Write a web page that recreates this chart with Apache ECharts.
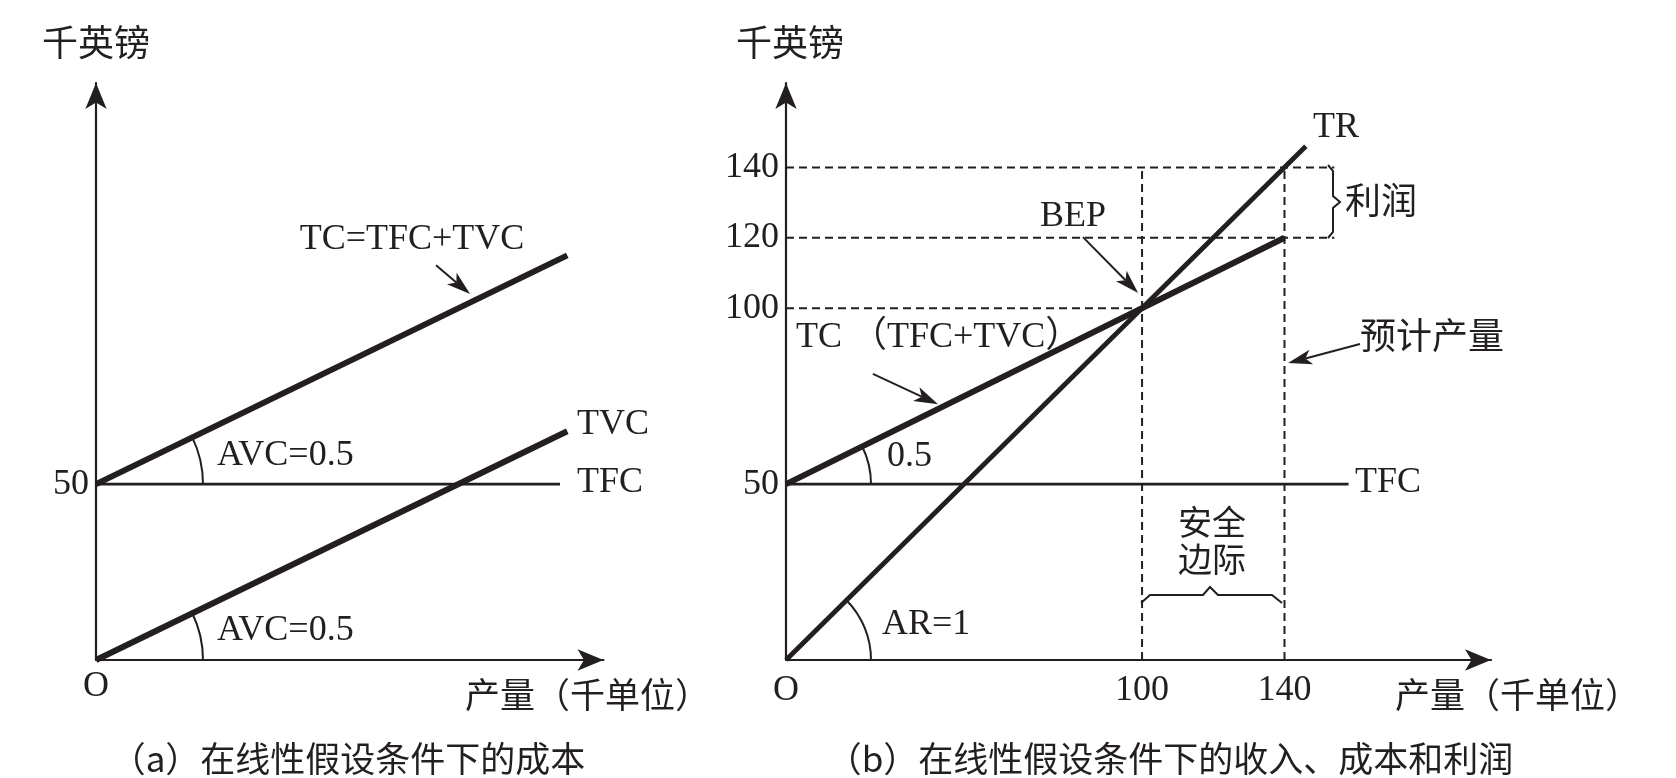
<!DOCTYPE html>
<html><head><meta charset="utf-8">
<script src="https://cdn.jsdelivr.net/npm/echarts@6/dist/echarts.min.js"></script>
<style>html,body{margin:0;padding:0;background:#fff}#c{width:1676px;height:778px}</style>
</head><body><div id="c"></div>
<script>
// ---------------- data ----------------
// (a) costs under linear assumptions  [output (k units), £k]
const aTFC = [[0, 50], [128, 50]];
const aTVC = [[0, 0], [130, 65]];
const aTC  = [[0, 50], [130, 115]];
const aYTicks = [50];
const aXTicks = [0];

// (b) revenue, cost and profit
const bTFC = [[0, 50], [158, 50]];
const bTC  = [[0, 50], [140, 120]];
const bTR  = [[0, 0], [146, 146]];
const bYTicks = [50, 100, 120, 140];
const bXTicks = [0, 100, 140];
const bHGuides = [[140, 154], [120, 154], [100, 100]]; // [level, reaches q]
const bVGuides = [[100, 140], [140, 140]];             // [q, up to level]

// annotation arrows [from, tip] in data coords
const aArrows = [[[93.8, 112.2], [103.2, 104]]];
const bArrows = [[[83.4, 120.2], [98.9, 104.3]], [[24.4, 81.3], [42.7, 72.7]], [[161.2, 89.8], [141, 84.4]]];

// ---------------- style ----------------
const INK = '#231f20';
const LAT = '"Liberation Serif", "Noto Sans CJK SC", serif';
const CJK = '"Noto Sans CJK SC", sans-serif';
const FS = 36;

const chart = echarts.init(document.getElementById('c'), null, {renderer: 'canvas'});

function axisX(idx, max, ticks, margin) {
  return {
    type: 'value', gridIndex: idx, min: 0, max: max,
    axisLine: {show: true, onZero: false, symbol: ['none', 'arrow'], symbolSize: [16, 26], lineStyle: {color: INK, width: 2.2}},
    axisTick: {show: false}, splitLine: {show: false},
    axisLabel: {show: true, customValues: ticks, margin: margin, color: INK, fontFamily: LAT, fontSize: FS,
      formatter: v => v === 0 ? 'O' : String(v)}
  };
}
function axisY(idx, max, ticks) {
  return {
    type: 'value', gridIndex: idx, min: 0, max: max,
    axisLine: {show: true, onZero: false, symbol: ['none', 'arrow'], symbolSize: [16, 26], lineStyle: {color: INK, width: 2.2}},
    axisTick: {show: false}, splitLine: {show: false},
    axisLabel: {show: true, customValues: ticks, margin: 7, color: INK, fontFamily: LAT, fontSize: FS}
  };
}
function line(g, data, width, extra) {
  return Object.assign({
    type: 'line', xAxisIndex: g, yAxisIndex: g, data: data, showSymbol: false, symbol: 'none',
    silent: true, animation: false, lineStyle: {color: INK, width: width, cap: 'butt'}, z: 3
  }, extra || {});
}
function dashed(g, data) {
  return line(g, data, 2, {lineStyle: {color: INK, width: 2, type: [8, 5]}, z: 2});
}

const series = [];
bHGuides.forEach(h => series.push(dashed(1, [[0, h[0]], [h[1], h[0]]])));
bVGuides.forEach(v => series.push(dashed(1, [[v[0], 0], [v[0], v[1]]])));
series.push(line(0, aTFC, 2.8));
series.push(line(0, aTVC, 6));
series.push(line(0, aTC, 6));
series.push(line(1, bTFC, 2.8));
series.push(line(1, bTC, 6));
series.push(line(1, bTR, 4.8));

chart.setOption({
  backgroundColor: '#fff',
  animation: false,
  grid: [
    {left: 96, top: 83, width: 507.5, height: 577, containLabel: false, outerBoundsMode: 'none'},
    {left: 786, top: 83, width: 705, height: 577, containLabel: false, outerBoundsMode: 'none'}
  ],
  xAxis: [axisX(0, 140, aXTicks, 9), axisX(1, 198, bXTicks, 13)],
  yAxis: [axisY(0, 164, aYTicks), axisY(1, 164, bYTicks)],
  series: series
});

// ---------------- annotations ----------------
function px(g, p) { return chart.convertToPixel({gridIndex: g}, p); }
function txt(x, y, s, align, font, size) {
  return {type: 'text', x: x, y: y, silent: true,
    style: {text: s, fill: INK, fontFamily: font || LAT, fontSize: size || FS, align: align || 'left', verticalAlign: 'middle'}};
}
function angleArc(g, origin, end, r) {
  const o = px(g, origin), e = px(g, end);
  const a = Math.atan2(e[1] - o[1], e[0] - o[0]);
  return {type: 'arc', silent: true, shape: {cx: o[0], cy: o[1], r: r, startAngle: a, endAngle: 0, clockwise: true},
    style: {stroke: INK, fill: null, lineWidth: 2}};
}
function arrow(g, a) {
  const p0 = px(g, a[0]), p1 = px(g, a[1]);
  const dx = p1[0] - p0[0], dy = p1[1] - p0[1], L = Math.hypot(dx, dy);
  const ux = dx / L, uy = dy / L, nx = -uy, ny = ux;
  const len = 24, hw = 7.5, notch = 18;
  const bx = p1[0] - ux * len, by = p1[1] - uy * len;
  const mx = p1[0] - ux * notch, my = p1[1] - uy * notch;
  return [
    {type: 'line', silent: true, shape: {x1: p0[0], y1: p0[1], x2: mx, y2: my}, style: {stroke: INK, lineWidth: 2}},
    {type: 'polygon', silent: true, shape: {points: [p1, [bx + nx * hw, by + ny * hw], [mx, my], [bx - nx * hw, by - ny * hw]]},
      style: {fill: INK, stroke: null}}
  ];
}
const graphics = [
  // (a)
  txt(96, 42, '千英镑', 'center', CJK),
  txt(412, 240, 'TC=TFC+TVC', 'center'),
  txt(577, 425, 'TVC'),
  txt(577, 483, 'TFC'),
  txt(217, 456, 'AVC=0.5'),
  txt(217, 631, 'AVC=0.5'),
  txt(465, 695, '产量（千单位）', 'left', CJK, 35),
  txt(348, 759, '（a）在线性假设条件下的成本', 'center', CJK, 35),
  angleArc(0, aTC[0], aTC[1], 107),
  angleArc(0, aTVC[0], aTVC[1], 107),
  // (b)
  txt(790, 42, '千英镑', 'center', CJK),
  txt(1313, 128, 'TR'),
  txt(1073, 217, 'BEP', 'center'),
  txt(1345, 200, '利润', 'left', CJK),
  txt(796, 338, 'TC （TFC+TVC）'),
  txt(1360, 335, '预计产量', 'left', CJK),
  txt(887, 457, '0.5'),
  txt(1355, 483, 'TFC'),
  txt(1212, 522, '安全', 'center', CJK, 34),
  txt(1212, 559, '边际', 'center', CJK, 34),
  txt(882, 625, 'AR=1'),
  txt(1395, 695, '产量（千单位）', 'left', CJK, 35),
  txt(1170, 759, '（b）在线性假设条件下的收入、成本和利润', 'center', CJK, 35),
  angleArc(1, bTC[0], bTC[1], 85),
  angleArc(1, bTR[0], bTR[1], 85),
  {type: 'polyline', silent: true, shape: {points: [[1328,165],[1333,171],[1333,196],[1340,202],[1333,208],[1333,232],[1328,238]]},
    style: {stroke: INK, fill: null, lineWidth: 2}},
  {type: 'polyline', silent: true, shape: {points: [[1141,603],[1150,595],[1203,595],[1210,587],[1218,595],[1272,595],[1282,603]]},
    style: {stroke: INK, fill: null, lineWidth: 2}}
];
aArrows.forEach(a => graphics.push(...arrow(0, a)));
bArrows.forEach(a => graphics.push(...arrow(1, a)));
chart.setOption({graphic: graphics});
</script></body></html>
